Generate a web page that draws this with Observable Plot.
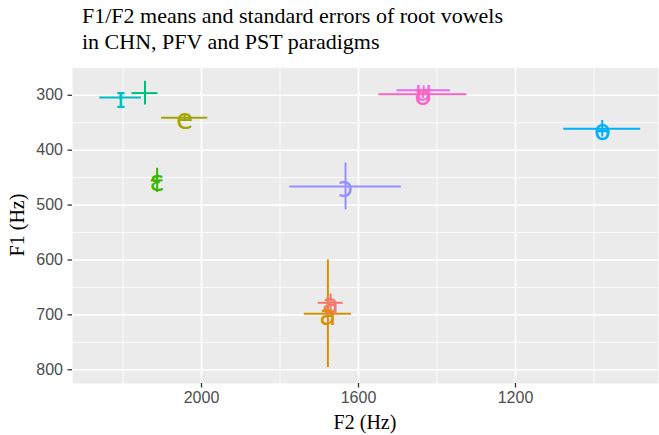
<!DOCTYPE html>
<html><head><meta charset="utf-8">
<script src="https://cdn.jsdelivr.net/npm/d3@7"></script>
<script src="https://cdn.jsdelivr.net/npm/@observablehq/plot@0.6"></script>
<style>
body{margin:0;background:#fff;}
#wrap{position:relative;width:659px;height:435px;overflow:hidden;}
#title{position:absolute;left:82px;top:3px;font-family:"Liberation Serif",serif;font-size:22px;line-height:26px;color:#000;white-space:nowrap;}
#chart{position:absolute;left:0;top:60px;}
.axt{position:absolute;font-family:"Liberation Serif",serif;font-size:20px;color:#000;white-space:nowrap;}
#xt{left:365px;top:422px;transform:translate(-50%,-50%);}
#yt{left:17px;top:225px;transform:translate(-50%,-50%) rotate(-90deg);}
</style></head><body>
<div id="wrap">
<div id="title">F1/F2 means and standard errors of root vowels<br>in CHN, PFV and PST paradigms</div>
<div id="chart"></div>
<div class="axt" id="xt">F2 (Hz)</div>
<div class="axt" id="yt">F1 (Hz)</div>
</div>
<script>
const vowels = ["a1", "a2", "e", "ɛ", "i", "ɪ", "ɵ", "ɔ", "u", "ʊ"];
const labels = ["a", "a", "e", "ɛ", "", "ɪ", "ɵ", "ɔ", "u", "ʊ"];
const colors = ["#F8766D", "#D89000", "#A3A500", "#39B600", "#00BF7D", "#00BFC4", "#00B0F6", "#9590FF", "#E76BF3", "#FF62BC"];
const f2 = [1671, 1678, 2043, 2113, 2144, 2206, 979, 1633, 1434, 1436];
const f1 = [678, 698, 341, 455, 296, 304, 361, 466, 291, 298];
const f2se = [32, 60, 59, 15, 33, 53, 98, 142, 68, 112];
const f1se = [16, 98, 6, 22, 21.5, 5, 15, 42.5, 8, 8];
const xTicks = [2000, 1600, 1200];
const xMinor = [2200, 1800, 1400, 1000];
const yTicks = [300, 400, 500, 600, 700, 800];
const yMinor = [250, 350, 450, 550, 650, 750];

const data = vowels.map((v, i) => ({
  vowel: v, label: labels[i], color: colors[i], f2: f2[i], f1: f1[i],
  f2lo: f2[i] - f2se[i], f2hi: f2[i] + f2se[i],
  f1lo: f1[i] - f1se[i], f1hi: f1[i] + f1se[i]
}));

const plot = Plot.plot({
  width: 659, height: 375,
  marginLeft: 72, marginRight: 1, marginTop: 7, marginBottom: 52,
  style: {fontFamily: "Liberation Sans, sans-serif", background: "transparent", overflow: "visible"},
  x: {domain: [2328.7, 835.6]},
  y: {domain: [249.4, 825], reverse: true},
  marks: [
    Plot.frame({fill: "#EBEBEB", stroke: null}),
    Plot.gridX(xMinor, {stroke: "#fff", strokeOpacity: 1, strokeWidth: 0.8}),
    Plot.gridY(yMinor, {stroke: "#fff", strokeOpacity: 1, strokeWidth: 0.8}),
    Plot.gridX(xTicks, {stroke: "#fff", strokeOpacity: 1, strokeWidth: 1.6}),
    Plot.gridY(yTicks, {stroke: "#fff", strokeOpacity: 1, strokeWidth: 1.6}),
    Plot.axisX(xTicks, {tickSize: 4.5, tickPadding: 4, stroke: "#333", fill: "#4D4D4D", fontSize: 16, label: null, strokeWidth: 1.3, tickFormat: d3.format("d")}),
    Plot.axisY(yTicks, {tickSize: 4.5, tickPadding: 5, stroke: "#333", fill: "#4D4D4D", fontSize: 16, label: null, strokeWidth: 1.3, tickFormat: d3.format("d")}),
    Plot.ruleX(data, {x: "f2", y1: "f1lo", y2: "f1hi", stroke: "color", strokeWidth: 2}),
    Plot.ruleY(data, {y: "f1", x1: "f2lo", x2: "f2hi", stroke: "color", strokeWidth: 2}),
    Plot.text(data, {x: "f2", y: "f1", text: "label", fill: "color", fontSize: 28, fontFamily: "DejaVu Sans", dy: 2})
  ]
});
document.getElementById("chart").appendChild(plot);
</script>
</body></html>
